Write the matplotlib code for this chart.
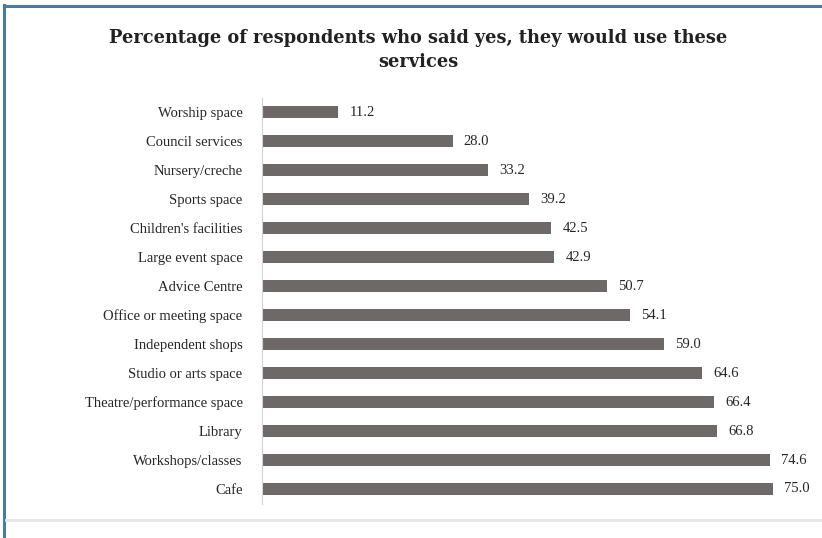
import matplotlib.pyplot as plt
from matplotlib.lines import Line2D

plt.rcParams["font.family"] = ["Liberation Serif", "DejaVu Serif"]

services = ["Worship space", "Council services", "Nursery/creche", "Sports space",
            "Children's facilities", "Large event space", "Advice Centre",
            "Office or meeting space", "Independent shops", "Studio or arts space",
            "Theatre/performance space", "Library", "Workshops/classes", "Cafe"]
pct_yes = [11.2, 28.0, 33.2, 39.2, 42.5, 42.9, 50.7, 54.1, 59.0, 64.6, 66.4, 66.8, 74.6, 75.0]

W, H = 822, 538
fig = plt.figure(figsize=(W / 100, H / 100), dpi=100)

# frame lines around the panel
blue = "#4a7aa2"
fig.add_artist(Line2D([4 / W, 4 / W], [0, 1 - 5 / H], color=blue, lw=2.2))
fig.add_artist(Line2D([4 / W, 1], [1 - 6 / H, 1 - 6 / H], color=blue, lw=2.2))
fig.add_artist(Line2D([6 / W, 1], [1 - 520 / H, 1 - 520 / H], color="#e6e6e6", lw=2))

ax = fig.add_axes([262 / W, 1 - 503.5 / H, (805 - 262) / W, (503.5 - 97.5) / H])
pos = range(len(services))
ax.barh(pos, pct_yes, height=0.38, color="#6d6968")
ax.set_xlim(0, (805 - 262) / 6.81)
ax.set_ylim(len(services) - 0.5, -0.5)
ax.set_yticks(list(pos))
ax.set_yticklabels(services, fontsize=10.5, color="#252525")
ax.tick_params(axis="y", length=0, pad=14)
ax.set_xticks([])
for s in ["top", "right", "bottom"]:
    ax.spines[s].set_visible(False)
ax.spines["left"].set_color("#d4d4d4")

for p, v in zip(pos, pct_yes):
    ax.annotate(f"{v:.1f}", (v, p), xytext=(8, 0), textcoords="offset points",
                va="center", ha="left", fontsize=10.5, color="#252525")

fig.text(418 / W, 1 - 50 / H,
         "Percentage of respondents who said yes, they would use these\nservices",
         ha="center", va="center", fontsize=12.8, fontweight="bold", color="#222222",
         family="DejaVu Serif", linespacing=1.45)

fig.savefig("out.png", dpi=100)
